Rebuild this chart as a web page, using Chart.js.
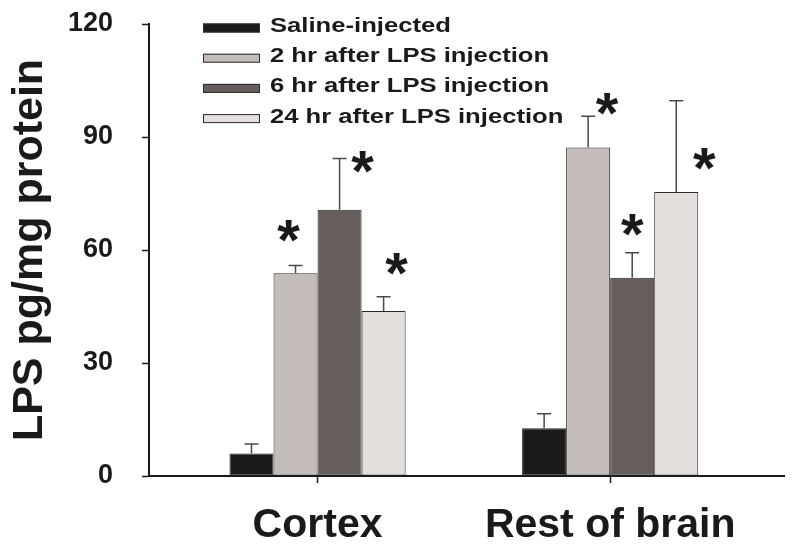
<!DOCTYPE html>
<html>
<head>
<meta charset="utf-8">
<script src="https://cdn.jsdelivr.net/npm/chart.js@4/dist/chart.umd.min.js"></script>
<style>
  html, body { margin: 0; padding: 0; background: #ffffff; }
  #wrap { width: 800px; height: 548px; }
</style>
</head>
<body>
<div id="wrap"><canvas id="c" width="800" height="548"></canvas></div>
<script>
// ---- data ----
const categories = ['Cortex', 'Rest of brain'];
const seriesNames = ['Saline-injected', '2 hr after LPS injection', '6 hr after LPS injection', '24 hr after LPS injection'];
const saline = [6.0, 12.7];
const salineErr = [2.5, 3.8];
const hr2 = [53.8, 87.2];
const hr2Err = [2.1, 8.3];
const hr6 = [70.7, 52.6];
const hr6Err = [13.6, 6.7];
const hr24 = [43.8, 75.4];
const hr24Err = [3.8, 24.2];
const salineSig = [false, false];
const hr2Sig = [true, true];
const hr6Sig = [true, true];
const hr24Sig = [true, true];
const yTicks = [0, 30, 60, 90, 120];
const yTitle = 'LPS pg/mg protein';

// ---- styles ----
const FONT = "'Liberation Sans', Arial, Helvetica, sans-serif";
const INK = '#1a1a1a';
const colors = ['#1c1b19', '#c4bcb8', '#665e5a', '#e4dfdd'];
// star placement relative to error-bar top (px): [series][category]
const starOffsets = [
  [null, null],
  [{dx: -7, dy: -37}, {dx: 19, dy: -15}],
  [{dx: 23, dy: 1}, {dx: 0, dy: -31}],
  [{dx: 13, dy: -36}, {dx: 28, dy: 55}]
];

const values = [saline, hr2, hr6, hr24];
const errors = [salineErr, hr2Err, hr6Err, hr24Err];
const sigs = [salineSig, hr2Sig, hr6Sig, hr24Sig];

const datasets = seriesNames.map((name, s) => ({
  label: name,
  data: categories.map((c, i) => ({x: i, y: values[s][i]})),
  backgroundColor: colors[s],
  borderColor: '#2b2b2b',
  borderWidth: 1,
  borderSkipped: false,
  errors: errors[s],
  sig: sigs[s],
  barPercentage: 1.0,
  categoryPercentage: 0.602
}));

const errorBarPlugin = {
  id: 'errorBars',
  afterDatasetsDraw(chart) {
    const ctx = chart.ctx;
    const yScale = chart.scales.y;
    chart.data.datasets.forEach((ds, s) => {
      const meta = chart.getDatasetMeta(s);
      meta.data.forEach((bar, i) => {
        const v = ds.data[i].y;
        const e = ds.errors[i];
        const yTop = yScale.getPixelForValue(v + e);
        const x = bar.x;
        ctx.save();
        ctx.strokeStyle = '#4a4a4a';
        ctx.lineWidth = 1.5;
        ctx.beginPath();
        ctx.moveTo(x, bar.y);
        ctx.lineTo(x, yTop);
        ctx.moveTo(x - 7, yTop);
        ctx.lineTo(x + 7, yTop);
        ctx.stroke();
        if (ds.sig[i] && starOffsets[s][i]) {
          const off = starOffsets[s][i];
          const size = 58;
          ctx.fillStyle = INK;
          ctx.font = 'bold ' + size + 'px ' + FONT;
          ctx.textAlign = 'center';
          ctx.textBaseline = 'alphabetic';
          ctx.fillText('*', x + off.dx, yTop + off.dy + 0.552 * size);
        }
        ctx.restore();
      });
    });
  }
};

const legendPlugin = {
  id: 'overlayLegend',
  afterDraw(chart) {
    const ctx = chart.ctx;
    const bx = 203, bw = 57, bh = 9, tx = 270, y0 = 28, step = 30.2;
    chart.data.datasets.forEach((ds, s) => {
      const cy = y0 + s * step;
      ctx.save();
      ctx.fillStyle = ds.backgroundColor;
      ctx.fillRect(bx, cy - bh / 2, bw, bh);
      ctx.strokeStyle = '#2b2b2b';
      ctx.lineWidth = 1;
      ctx.strokeRect(bx + 0.5, cy - bh / 2 + 0.5, bw - 1, bh - 1);
      ctx.translate(tx, cy + 4);
      ctx.scale(1.25, 1);
      ctx.fillStyle = INK;
      ctx.font = 'bold 20.5px ' + FONT;
      ctx.textAlign = 'left';
      ctx.textBaseline = 'alphabetic';
      ctx.fillText(ds.label, 0, 0);
      ctx.restore();
    });
  }
};

new Chart(document.getElementById('c'), {
  type: 'bar',
  data: { datasets },
  options: {
    responsive: false,
    animation: false,
    layout: { padding: { top: 24, right: 16, left: 0, bottom: 0 } },
    plugins: {
      legend: { display: false },
      tooltip: { enabled: false }
    },
    scales: {
      x: {
        type: 'linear',
        min: -0.576,
        max: 1.594,
        offset: false,
        afterBuildTicks(scale) { scale.ticks = categories.map((c, i) => ({value: i})); },
        afterFit(scale) { scale.height = 72; scale.paddingLeft = 0; scale.paddingRight = 0; },
        grid: { display: true, offset: false, drawOnChartArea: false, drawTicks: true, tickLength: 7, tickColor: INK, tickWidth: 1.5 },
        border: { display: true, color: INK, width: 2 },
        ticks: {
          autoSkip: false,
          maxRotation: 0,
          padding: 18,
          color: INK,
          font: { family: FONT, size: 41, weight: 'bold' },
          callback: (v) => categories[v]
        }
      },
      y: {
        min: 0,
        max: 120,
        afterBuildTicks(scale) { scale.ticks = yTicks.map(v => ({value: v})); },
        afterFit(scale) { scale.width = 149; scale.paddingTop = 0; scale.paddingBottom = 0; },
        grid: { display: true, drawOnChartArea: false, drawTicks: true, tickLength: 7, tickColor: INK, tickWidth: 1.5 },
        border: { display: true, color: INK, width: 2 },
        ticks: {
          padding: 29,
          color: INK,
          font: { family: FONT, size: 27, weight: 'bold' }
        },
        title: {
          display: true,
          text: yTitle,
          color: INK,
          font: { family: FONT, size: 43, weight: 'bold' },
          padding: { top: 4, bottom: 0 }
        }
      }
    }
  },
  plugins: [errorBarPlugin, legendPlugin]
});
</script>
</body>
</html>
